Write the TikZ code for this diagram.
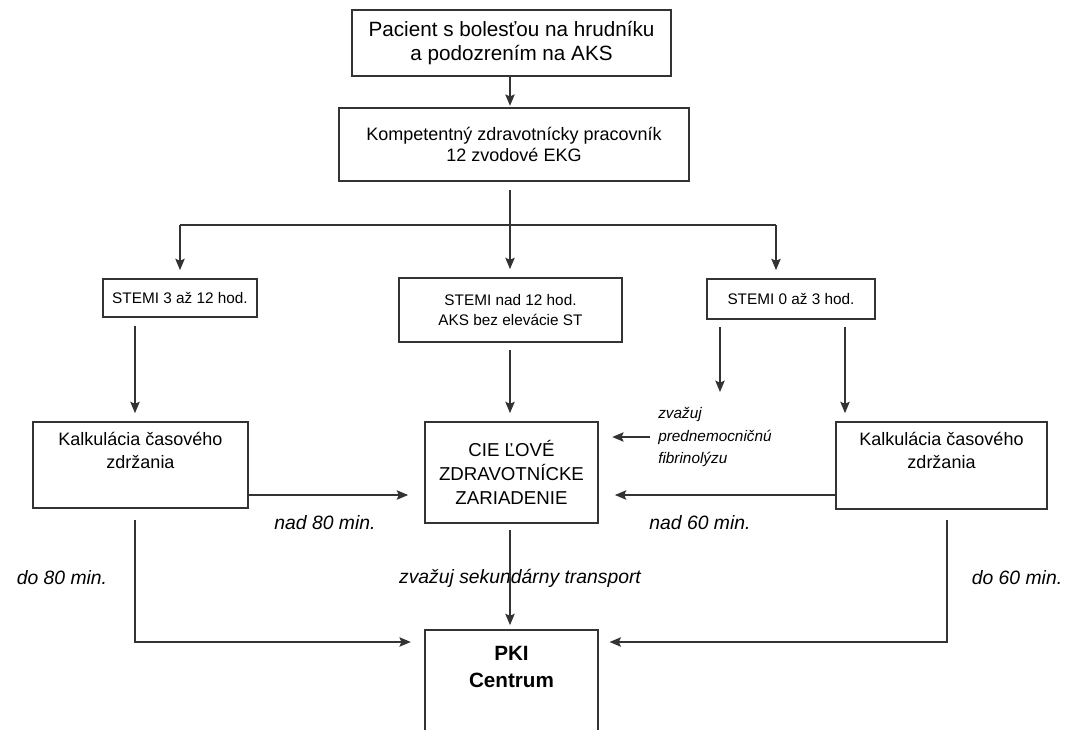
\documentclass[tikz,border=0pt]{standalone}
\usepackage{fontspec}
\setmainfont{Liberation Sans}
\usetikzlibrary{arrows.meta}
\tikzset{
  x=0.75pt, y=-0.75pt,
  box/.style={draw=black!80, line width=1.3pt, fill=white, inner sep=2pt, align=center},
  boxtext/.style={inner sep=0pt, align=center},
  conn/.style={draw=black!80, line width=1.3pt, -{Stealth[length=8.5pt,width=7pt,inset=1.5pt]}},
  plain/.style={draw=black!80, line width=1.3pt},
  lab/.style={font=\fontsize{14.5}{17}\selectfont\itshape, inner sep=0pt},
}
\begin{document}
\begin{tikzpicture}
\useasboundingbox (0,0) rectangle (1073,729);
\clip (0,0) rectangle (1073,729);
\fill[white] (0,0) rectangle (1073,729);

% boxes
\node[box, minimum width=239.25pt, minimum height=49.5pt, font=\fontsize{15.5}{17.5}\selectfont] (top) at (511.5,43) {Pacient s bolesťou na hrudníku\\a podozrením na AKS};
\node[box, minimum width=262.5pt, minimum height=54.75pt, font=\fontsize{13.5}{16}\selectfont] (ekg) at (514,144.5) {Kompetentný zdravotnícky pracovník\\12 zvodové EKG};
\node[box, minimum width=115.5pt, minimum height=28.5pt, font=\fontsize{11.5}{14}\selectfont] (s1) at (180,298) {STEMI 3 až 12 hod.};
\node[box, minimum width=167.25pt, minimum height=48pt, font=\fontsize{11.5}{14.5}\selectfont] (s2) at (510.5,310) {STEMI nad 12 hod.\\AKS bez elevácie ST};
\node[box, minimum width=126pt, minimum height=30pt, font=\fontsize{11.5}{14}\selectfont] (s3) at (791,299) {STEMI 0 až 3 hod.};
\node[box, minimum width=161.25pt, minimum height=64.5pt] (k1) at (140.5,465) {};
\node[boxtext, font=\fontsize{13.5}{17.5}\selectfont, anchor=north] (k1t) at (140.5,432) {Kalkulácia časového\\zdržania};
\node[box, minimum width=158.25pt, minimum height=65.25pt] (k2) at (941.5,465.5) {};
\node[boxtext, font=\fontsize{13.5}{17.5}\selectfont, anchor=north] (k2t) at (941.5,432) {Kalkulácia časového\\zdržania};
\node[box, minimum width=129.75pt, minimum height=75.75pt, font=\fontsize{14}{18}\selectfont] (ciel) at (511.5,472.5) {CIE ĽOVÉ\\ZDRAVOTNÍCKE\\ZARIADENIE};
\node[box, minimum width=129.75pt, minimum height=97.5pt] (pki) at (511.5,695) {};
\node[boxtext, font=\fontsize{15.5}{20}\selectfont\bfseries, anchor=north] (pkit) at (511.5,646) {PKI\\Centrum};

% helper coordinates
\coordinate (ekgb) at (510,190);
\coordinate (split) at (510,225);
\coordinate (s1b) at (135,326);
\coordinate (s2b) at (510,350);
\coordinate (s3bl) at (720,327);
\coordinate (s3br) at (845,327);
\coordinate (fibr) at (720,392);
\coordinate (k1b) at (135,520);
\coordinate (k2b) at (947,520);
\coordinate (cielb) at (510,530);
\coordinate (fibra) at (650,437);

% connectors
\draw[conn, shorten >=1pt] (top.south -| 510,0) -- (ekg.north -| 510,0);
\draw[conn, shorten >=6pt] (ekgb) -- (s2.north -| ekgb);
\draw[plain] (split -| 180,0) -- (split -| 776,0);
\draw[conn, shorten >=6pt] (split -| 180,0) -- (s1.north -| 180,0);
\draw[conn, shorten >=6pt] (split -| 776,0) -- (s3.north -| 776,0);
\draw[conn, shorten >=6pt] (s1b) -- (k1.north -| s1b);
\draw[conn, shorten >=6pt] (s2b) -- (ciel.north -| s2b);
\draw[conn] (s3bl) -- (fibr);
\draw[conn, shorten >=6pt] (s3br) -- (k2.north -| s3br);
\draw[conn, shorten >=12pt] (k2.west |- 0,495) -- (ciel.east |- 0,495);
\draw[conn, shorten >=12pt] (k1.east |- 0,495) -- (ciel.west |- 0,495);
\draw[conn, shorten >=10pt] (fibra) -- (ciel.east |- fibra);
\draw[conn, shorten >=10pt] (k1b) |- (pki.west |- 0,642);
\draw[conn, shorten >=8pt] (k2b) |- (pki.east |- 0,642);
\draw[conn, shorten >=3pt] (cielb) -- (pki.north -| cielb);

% labels
\node[lab] (l80a) at (325,523) {nad 80 min.};
\node[lab] (l60a) at (700,523) {nad 60 min.};
\node[lab] (l80b) at (62,578) {do 80 min.};
\node[lab] (l60b) at (1017,578) {do 60 min.};
\node[lab, fill=white, inner sep=0pt] (sek) at (520,578) {zvažuj sekundárny transport};
\draw[plain] (sek.north -| cielb) -- (sek.south -| cielb);
\node[lab, align=left, anchor=west, font=\fontsize{11.5}{17}\selectfont\itshape] (fib) at (658,437) {zvažuj\\prednemocničnú\\fibrinolýzu};
\end{tikzpicture}
\end{document}
